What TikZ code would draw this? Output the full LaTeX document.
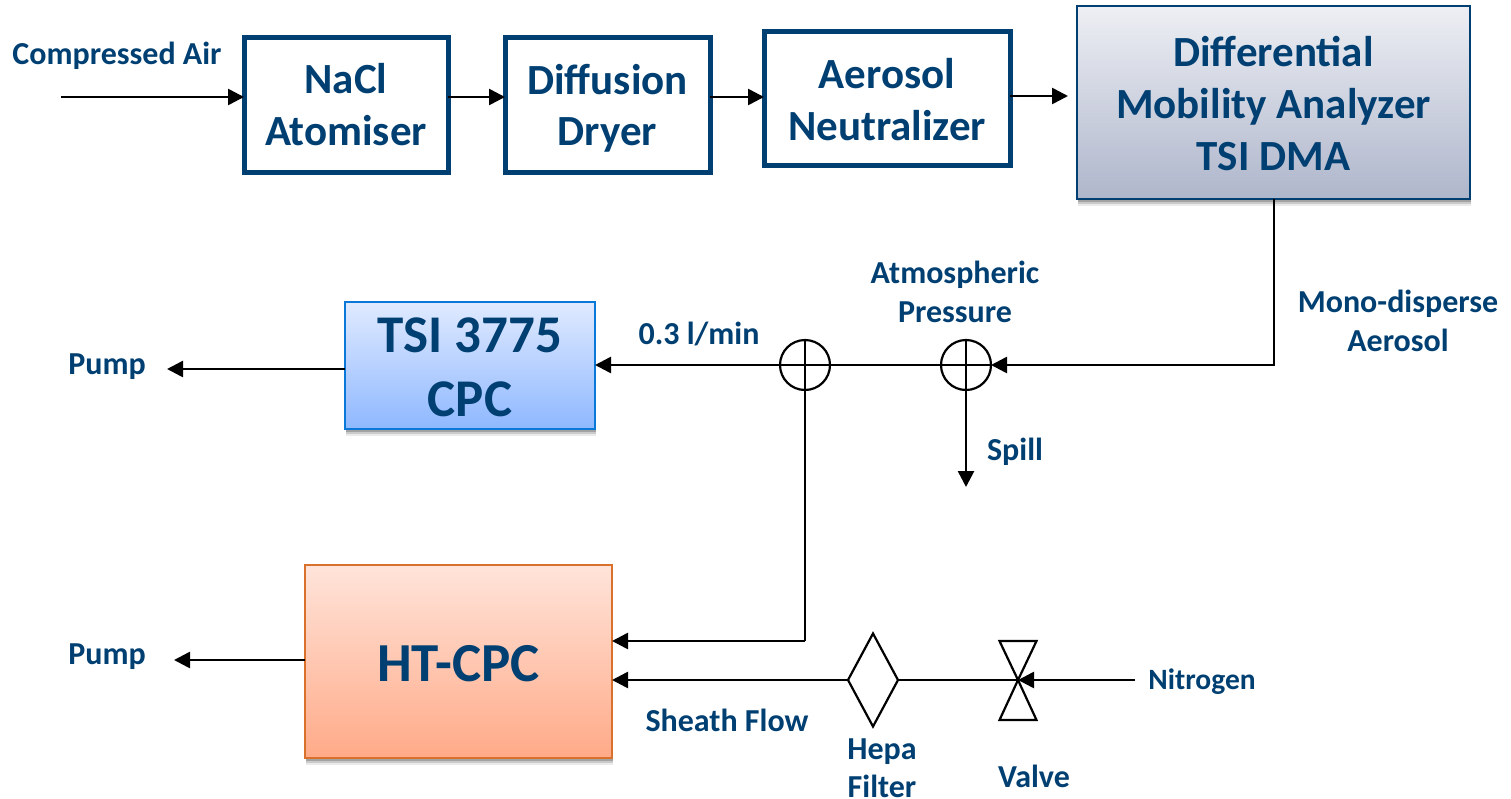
\documentclass[tikz,border=0pt]{standalone}
\usepackage{fontspec}
\setmainfont{Carlito}
\usetikzlibrary{arrows.meta,shapes.geometric,shadows}
\definecolor{txt}{HTML}{003F72}
\definecolor{dmatop}{HTML}{EEEFF4}
\definecolor{dmabot}{HTML}{AEB6CB}
\definecolor{cpctop}{HTML}{E0EAFF}
\definecolor{cpcbot}{HTML}{8FB8FF}
\definecolor{cpcline}{HTML}{0A78D8}
\definecolor{httop}{HTML}{FFE4DA}
\definecolor{htbot}{HTML}{FFAA88}
\definecolor{htline}{HTML}{D9702B}
\newcommand{\pushdown}[1]{\rule{0pt}{#1pt}}
\tikzset{
  flow/.style={line width=2.6pt,-{Triangle[length=16pt,width=16pt]}},
  pipe/.style={line width=2.6pt},
  lab/.style={text=txt,font=\fontsize{32}{38.5}\selectfont\bfseries,align=center,inner sep=0pt},
  plainbox/.style={draw=txt,line width=5pt,fill=white,text=txt,align=center,inner sep=0pt,outer sep=0pt,
    font=\fontsize{43}{51.5}\selectfont\bfseries},
  softshadow/.style={general shadow={shadow xshift=1pt,shadow yshift=-7pt,fill=black,opacity=.08},
     general shadow={shadow xshift=1pt,shadow yshift=-5pt,fill=black,opacity=.14},
     general shadow={shadow xshift=1pt,shadow yshift=-3pt,fill=black,opacity=.2}},
  dmabox/.style={softshadow,draw=txt,line width=2.8pt,top color=dmatop,bottom color=dmabot,text=txt,align=center,inner sep=0pt,outer sep=0pt,
    font=\fontsize{43}{52}\selectfont\bfseries},
  cpcbox/.style={softshadow,draw=cpcline,line width=2.6pt,top color=cpctop,bottom color=cpcbot,text=txt,align=center,inner sep=0pt,outer sep=0pt,
    font=\fontsize{53}{64}\selectfont\bfseries},
  htbox/.style={softshadow,draw=htline,line width=2.2pt,top color=httop,bottom color=htbot,text=txt,align=center,inner sep=0pt,outer sep=0pt,
    font=\fontsize{55}{62}\selectfont\bfseries},
  junction/.style={circle,draw=black,fill=none,line width=2.2pt,minimum size=50pt,inner sep=0pt,outer sep=0pt},
  filter/.style={diamond,draw=black,line width=2.2pt,minimum width=50pt,minimum height=93pt,inner sep=0pt,outer sep=0pt},
}
\begin{document}
\begin{tikzpicture}[x=1pt,y=-1pt]
\path[use as bounding box] (0,0) rectangle (1511,798);
% boxes
\node[plainbox,minimum width=204pt,minimum height=135pt] (nacl) at (346,104.5) {NaCl\\Atomiser};
\node[plainbox,minimum width=205pt,minimum height=135pt] (dryer) at (607.5,104.5) {\pushdown{38}Diffusion\\Dryer};
\node[plainbox,minimum width=246pt,minimum height=134pt] (neut) at (887,98) {\pushdown{32.5}Aerosol\\[0.5pt]Neutralizer};
\node[dmabox,minimum width=393pt,minimum height=193pt] (dma) at (1273.5,102.5) {\pushdown{31.5}Differential\\Mobility Analyzer\\TSI DMA};
\node[cpcbox,minimum width=250pt,minimum height=127pt] (cpc) at (470,365.5) {\pushdown{38}TSI 3775\\CPC};
\node[htbox,minimum width=307pt,minimum height=193pt] (ht) at (458.5,661.5) {\pushdown{39.5}HT-CPC};
% junctions and filter
\node[junction] (j1) at (805,365) {};
\node[junction] (j2) at (966,365) {};
\node[filter] (hepa) at (873,680) {};
\coordinate (valve) at (1018,680);
% free ends
\coordinate (air) at (61,97);
\coordinate (dmaout) at (1068,96);
\coordinate (corner) at (1274,365);
\coordinate (spill) at (966,487);
\coordinate (pumpa) at (167,369);
\coordinate (pumpb) at (174,660);
\coordinate (bend) at (805,641);
\coordinate (n2) at (1135,680);
% connectors
\draw[flow] (air) -- (air -| nacl.west);
\draw[flow] (nacl.east |- air) -- (dryer.west |- air);
\draw[flow] (dryer.east |- air) -- (neut.west |- air);
\draw[flow] (neut.east |- dmaout) -- (dmaout);
\draw[flow] (dma.south -| corner) -- (corner) -- (j2.east);
\draw[pipe] (j2.west) -- (j1.east);
\draw[flow] (j2.south) -- (spill);
\draw[flow] (j1.west) -- (j1.west -| cpc.east);
\draw[flow] (cpc.west |- pumpa) -- (pumpa);
\draw[pipe] (j1.south) -- (bend);
\draw[flow] (bend) -- (bend -| ht.east);
\draw[flow] (ht.west |- pumpb) -- (pumpb);
\draw[flow] (hepa.west) -- (hepa.west -| ht.east);
\draw[pipe] (valve) -- (hepa.east);
\draw[flow] (n2) -- (valve);
% junction crosses
\draw[line width=2.2pt] (j1.west) -- (j1.east) (j1.north) -- (j1.south);
\draw[line width=2.2pt] (j2.west) -- (j2.east) (j2.north) -- (j2.south);
% valve
\draw[line width=2.2pt,line join=miter] (valve) -- ++(-18.5,-39) -- ++(37,0) -- cycle;
\draw[line width=2.2pt,line join=miter] (valve) -- ++(-18.5,40) -- ++(37,0) -- cycle;
% labels
\node[lab] (l1) at (117,56) {Compressed Air};
\node[lab] (l2) at (955,292) {Atmospheric\\Pressure};
\node[lab] (l3) at (1398,321) {Mono-disperse\\Aerosol};
\node[lab] (l4) at (699,334) {0.3 l/min};
\node[lab] (l5) at (107,367) {Pump};
\node[lab] (l6) at (107,657) {Pump};
\node[lab] (l7) at (1015,452) {Spill};
\node[lab] (l8) at (727,720) {Sheath Flow};
\node[lab] (l9) at (882,768) {Hepa\\Filter};
\node[lab] (l10) at (1034,776) {Valve};
\node[lab,font=\fontsize{29.5}{36}\selectfont\bfseries] (l11) at (1202,682) {Nitrogen};
\end{tikzpicture}
\end{document}
